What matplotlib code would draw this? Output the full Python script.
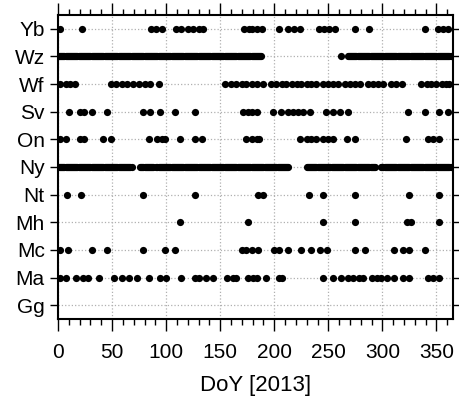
import matplotlib
matplotlib.use("Agg")
import matplotlib.pyplot as plt
from matplotlib.ticker import MultipleLocator

plt.rcParams['font.family'] = ['Liberation Sans', 'DejaVu Sans']

# station names, bottom to top
stations = ['Gg', 'Ma', 'Mc', 'Mh', 'Nt', 'Ny', 'On', 'Sv', 'Wf', 'Wz', 'Yb']

yb_days = [2, 22, 86, 91, 96, 109, 114, 120, 125, 130, 134, 172, 177, 179, 184, 189,
           204, 213, 218, 224, 241, 246, 251, 256, 275, 288, 339, 351, 356, 361]
wf_days = [2, 7, 11, 16, 49, 54, 59, 64, 69, 75, 80, 85, 93, 154, 160, 165, 170, 174,
           179, 184, 190, 197, 202, 207, 211, 216, 221, 225, 230, 234, 239, 245, 250,
           254, 259, 265, 270, 275, 279, 287, 291, 296, 301, 308, 313, 318, 336, 341,
           345, 350, 355, 359, 362]
sv_days = [10, 20, 24, 31, 45, 79, 85, 94, 108, 127, 171, 176, 179, 184, 199, 206,
           213, 217, 222, 227, 233, 248, 254, 261, 268, 324, 339, 352, 361]
on_days = [2, 7, 20, 24, 42, 49, 84, 92, 96, 99, 113, 127, 133, 174, 179, 184, 186,
           224, 230, 234, 239, 245, 250, 254, 267, 275, 322, 342, 347, 352]
nt_days = [8, 21, 79, 127, 185, 190, 232, 245, 275, 325, 352]
mh_days = [113, 176, 245, 275, 323, 326, 352]
mc_days = [2, 9, 31, 45, 79, 99, 108, 170, 174, 179, 185, 200, 204, 213, 225, 234,
           242, 249, 275, 284, 311, 319, 325, 339]
ma_days = [2, 7, 17, 23, 28, 38, 52, 59, 66, 73, 84, 94, 100, 114, 127, 130, 137, 143,
           156, 162, 165, 176, 180, 184, 192, 204, 207, 245, 254, 262, 268, 273, 278,
           282, 290, 295, 299, 304, 311, 319, 325, 342, 347, 352]
gg_days = []

# runs of consecutive daily observations (first day, last day)
wz_runs = [(1, 188), (262, 262), (268, 365)]
ny_runs = [(1, 68), (76, 88), (91, 213), (230, 293), (299, 365)]


def expand(runs):
    days = []
    for a, b in runs:
        days.extend(range(a, b + 1))
    return days


data = {
    'Gg': gg_days, 'Ma': ma_days, 'Mc': mc_days, 'Mh': mh_days, 'Nt': nt_days,
    'Ny': expand(ny_runs), 'On': on_days, 'Sv': sv_days, 'Wf': wf_days,
    'Wz': expand(wz_runs), 'Yb': yb_days,
}

fig = plt.figure(figsize=(4.6, 3.99), dpi=100)
ax = fig.add_axes([0.1261, 0.2005, 0.858, 0.762])

for i, st in enumerate(stations):
    days = data[st]
    ax.plot(days, [i + 1] * len(days), 'o', color='black', ms=5.2,
            mec='black', mew=0, clip_on=True, zorder=3)

ax.set_xlim(0, 365)
ax.set_ylim(0.5, 11.5)
ax.set_yticks(range(1, len(stations) + 1))
ax.set_yticklabels(stations)
ax.xaxis.set_major_locator(MultipleLocator(50))
ax.xaxis.set_minor_locator(MultipleLocator(10))

ax.grid(True, which='major', color='#b0b0b0', linestyle=':', linewidth=0.9, zorder=0)

ax.tick_params(axis='x', which='major', direction='out', length=8.6, width=1,
               labelsize=15, top=True, pad=9)
ax.tick_params(axis='x', which='minor', direction='out', length=4.3, width=1, top=True)
ax.tick_params(axis='y', which='major', direction='out', length=5.5, width=1,
               labelsize=15, right=True, pad=4)
ax.tick_params(axis='x', which='both', labeltop=False)

for s in ax.spines.values():
    s.set_linewidth(1.5)

ax.set_xlabel('DoY [2013]', fontsize=16, labelpad=9)

fig.savefig('out.png', dpi=100)
